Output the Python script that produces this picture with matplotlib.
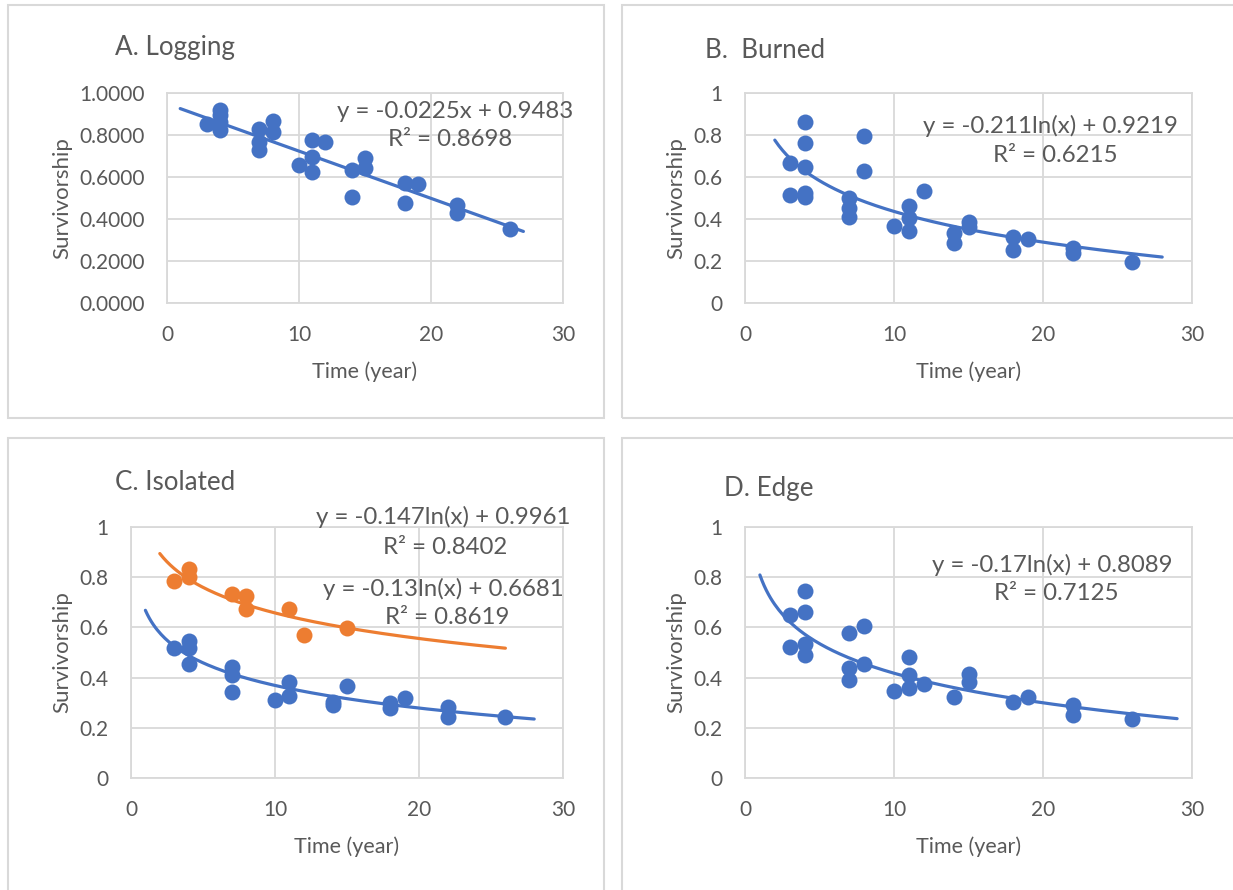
import numpy as np
import matplotlib
matplotlib.use("Agg")
import matplotlib.pyplot as plt
from matplotlib.patches import Rectangle

plt.rcParams['font.family'] = ['Lato', 'DejaVu Sans']

BLUE = '#4472C4'
ORANGE = '#ED7D31'
TXT = '#595959'
GRID = '#D9D9D9'

# ---- data ----
logging_x = [3, 4, 4, 4, 4, 7, 7, 7, 8, 8, 10, 11, 11, 11, 12, 14, 14, 15, 15, 18, 18, 19, 22, 22, 26]
logging_y = [0.852, 0.919, 0.895, 0.864, 0.824, 0.827, 0.768, 0.729, 0.868, 0.816, 0.657, 0.776, 0.697, 0.625,
             0.765, 0.633, 0.506, 0.692, 0.641, 0.570, 0.478, 0.567, 0.467, 0.427, 0.352]
logging_fit = (-0.0225, 0.9483)   # linear: a*x + b

burned_x = [3, 3, 4, 4, 4, 4, 4, 7, 7, 7, 8, 8, 10, 11, 11, 11, 12, 14, 14, 15, 15, 18, 18, 19, 22, 22, 26]
burned_y = [0.668, 0.514, 0.860, 0.760, 0.646, 0.522, 0.503, 0.499, 0.451, 0.408, 0.795, 0.630, 0.368, 0.463,
            0.403, 0.344, 0.535, 0.332, 0.284, 0.384, 0.363, 0.316, 0.252, 0.303, 0.260, 0.237, 0.197]
burned_fit = (-0.211, 0.9219)     # log: a*ln(x) + b

iso_or_x = [3, 4, 4, 7, 8, 8, 11, 12, 15]
iso_or_y = [0.786, 0.831, 0.800, 0.733, 0.725, 0.672, 0.672, 0.570, 0.596]
iso_or_fit = (-0.147, 0.9961)

iso_bl_x = [3, 4, 4, 4, 7, 7, 7, 10, 11, 11, 14, 14, 15, 18, 18, 19, 22, 22, 26]
iso_bl_y = [0.517, 0.547, 0.517, 0.454, 0.443, 0.410, 0.344, 0.311, 0.384, 0.327, 0.304, 0.291, 0.368,
            0.298, 0.280, 0.318, 0.284, 0.242, 0.242]
iso_bl_fit = (-0.13, 0.6681)

edge_x = [3, 3, 4, 4, 4, 4, 7, 7, 7, 8, 8, 10, 11, 11, 11, 12, 14, 15, 15, 18, 19, 22, 22, 26]
edge_y = [0.649, 0.521, 0.746, 0.663, 0.534, 0.490, 0.579, 0.437, 0.390, 0.606, 0.454, 0.348, 0.483, 0.410,
          0.357, 0.374, 0.321, 0.414, 0.381, 0.304, 0.324, 0.291, 0.251, 0.234]
edge_fit = (-0.17, 0.8089)

x_ticks = [0, 10, 20, 30]
y_ticks = [0, 0.2, 0.4, 0.6, 0.8, 1.0]

W, H = 1233, 890
fig = plt.figure(figsize=(W / 100, H / 100), dpi=100)


def fx(px):
    return px / W


def fy(py):
    return 1 - py / H


# panel borders
for (x0, y0, x1, y1) in [(8, 5, 604, 418), (622, 5, 1240, 418), (8, 438, 604, 900), (622, 438, 1240, 900)]:
    fig.patches.append(Rectangle((fx(x0), fy(y1)), fx(x1 - x0), (y1 - y0) / H,
                                 transform=fig.transFigure, fill=False, edgecolor=GRID, lw=1.5))


def make_ax(l, t, r, b, ylabfmt):
    ax = fig.add_axes([fx(l), fy(b), fx(r - l), (b - t) / H])
    ax.set_xlim(0, 30)
    ax.set_ylim(0, 1)
    ax.set_xticks(x_ticks)
    ax.set_yticks(y_ticks)
    ax.set_yticklabels([ylabfmt(v) for v in y_ticks])
    ax.grid(True, color=GRID, lw=1.3)
    ax.set_axisbelow(True)
    for s in ax.spines.values():
        s.set_color(GRID)
        s.set_linewidth(1.3)
    ax.tick_params(length=0, labelsize=15, labelcolor=TXT, pad=16)
    ax.set_xlabel('Time (year)', fontsize=15.5, color=TXT, labelpad=12)
    ax.set_ylabel('Survivorship', fontsize=16, color=TXT, labelpad=5)
    return ax


def fmt4(v):
    return f'{v:.4f}'


def fmtg(v):
    return '0' if v == 0 else ('1' if v == 1 else f'{v:.1f}')


def scatter(ax, x, y, c):
    ax.plot(x, y, 'o', color=c, ms=11.5, mew=0, zorder=3)


def logline(ax, fit, x0, x1, c):
    xs = np.linspace(x0, x1, 200)
    ax.plot(xs, fit[0] * np.log(xs) + fit[1], color=c, lw=2.3, zorder=4, solid_capstyle='round')


def ftext(px, py, s):
    fig.text(fx(px), fy(py), s, ha='center', va='center', fontsize=17.3, color=TXT)


def title(px, py, s):
    fig.text(fx(px), fy(py), s, ha='left', va='center', fontsize=18.7, color=TXT)


# A
axA = make_ax(167, 93, 563, 303, fmt4)
scatter(axA, logging_x, logging_y, BLUE)
xs = np.linspace(1, 27, 50)
axA.plot(xs, logging_fit[0] * xs + logging_fit[1], color=BLUE, lw=2.3, zorder=4, solid_capstyle='round')
title(115, 48, 'A. Logging')
ftext(455, 111, 'y = -0.0225x + 0.9483')
ftext(450, 139, 'R² = 0.8698')

# B
axB = make_ax(745, 93, 1192, 303, fmtg)
scatter(axB, burned_x, burned_y, BLUE)
logline(axB, burned_fit, 2, 28, BLUE)
title(705, 51, 'B.  Burned')
ftext(1050, 126, 'y = -0.211ln(x) + 0.9219')
ftext(1055, 155, 'R² = 0.6215')

# C
axC = make_ax(131, 527, 563, 778, fmtg)
scatter(axC, iso_or_x, iso_or_y, ORANGE)
scatter(axC, iso_bl_x, iso_bl_y, BLUE)
logline(axC, iso_or_fit, 2, 26, ORANGE)
logline(axC, iso_bl_fit, 1, 28, BLUE)
title(115, 482, 'C. Isolated')
ftext(443, 517, 'y = -0.147ln(x) + 0.9961')
ftext(445, 547, 'R² = 0.8402')
ftext(443, 589, 'y = -0.13ln(x) + 0.6681')
ftext(447, 617, 'R² = 0.8619')

# D
axD = make_ax(745, 527, 1192, 778, fmtg)
scatter(axD, edge_x, edge_y, BLUE)
logline(axD, edge_fit, 1, 29, BLUE)
title(724, 489, 'D. Edge')
ftext(1052, 565, 'y = -0.17ln(x) + 0.8089')
ftext(1056, 594, 'R² = 0.7125')

fig.savefig('out.png', dpi=100)
